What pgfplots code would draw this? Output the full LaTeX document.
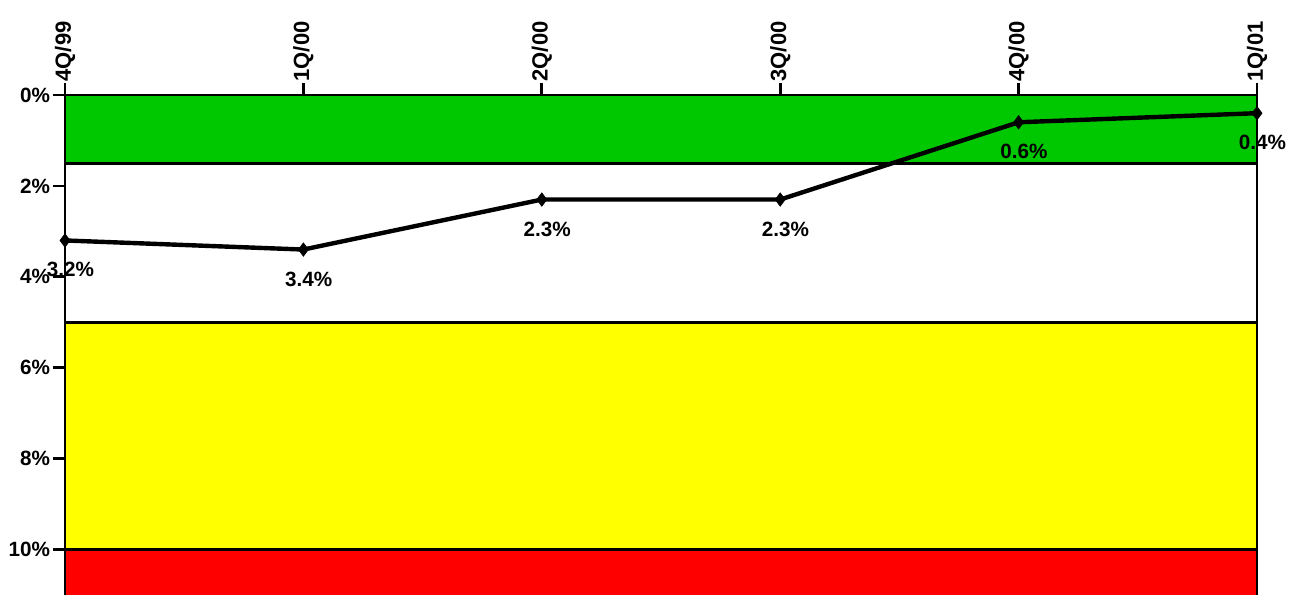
\documentclass[border=0pt]{standalone}
\usepackage{fontspec}
\setmainfont{Liberation Sans}
\usepackage{pgfplots}
\pgfplotsset{compat=1.18}
\definecolor{bgreen}{RGB}{0,200,0}
\definecolor{byellow}{RGB}{255,255,0}
\definecolor{bred}{RGB}{255,0,0}
\begin{document}
\begin{tikzpicture}
\begin{axis}[
  scale only axis, width=894pt, height=375pt,
  xmin=0, xmax=5, ymin=0, ymax=11, y dir=reverse,
  clip=false,
  axis line style={draw=none},
  xtick={0,1,2,3,4,5},
  xticklabels={4Q/99,1Q/00,2Q/00,3Q/00,4Q/00,1Q/01},
  xtick pos=right,
  xticklabel pos=right,
  ytick={0,2,4,6,8,10},
  ytick pos=left,
  yticklabel={\pgfmathprintnumber{\tick}\%},
  tick align=outside,
  major tick length=9pt,
  every tick/.style={black, line width=2pt},
  xticklabel style={rotate=90, anchor=west, font=\bfseries\fontsize{16.5}{18}\selectfont, inner sep=1pt},
  yticklabel style={font=\bfseries\fontsize{15.5}{18}\selectfont, inner sep=2pt},
  /pgf/number format/assume math mode=true,
  nodes near coords={\pgfmathprintnumber[fixed,precision=1,fixed zerofill]{\pgfplotspointmeta}\%},
  every node near coord/.append style={font=\bfseries\fontsize{15.5}{18}\selectfont, anchor=north, yshift=-13pt, xshift=4pt, black},
]
% bands
\addplot[fill=bgreen, draw=none, nodes near coords=] coordinates {(0,0) (5,0) (5,1.5) (0,1.5)} -- cycle;
\addplot[fill=byellow, draw=none, nodes near coords=] coordinates {(0,5) (5,5) (5,10) (0,10)} -- cycle;
\addplot[fill=bred, draw=none, nodes near coords=] coordinates {(0,10) (5,10) (5,11) (0,11)} -- cycle;
% band borders and frame
\addplot[black, line width=2.2pt, nodes near coords=] coordinates {(0,1.5) (5,1.5)};
\addplot[black, line width=2.2pt, nodes near coords=] coordinates {(0,5) (5,5)};
\addplot[black, line width=2.2pt, nodes near coords=] coordinates {(0,10) (5,10)};
\addplot[black, line width=2.2pt, nodes near coords=] coordinates {(0,11) (0,0) (5,0) (5,11)};
% data
\addplot[black, line width=3.3pt, mark=diamond*, mark size=5pt, mark options={line width=0.5pt}] coordinates {
  (0,3.2) (1,3.4) (2,2.3) (3,2.3) (4,0.6) (5,0.4)
};
\end{axis}
\pgfresetboundingbox
\path (current axis.south west) ++(-48.75pt,0pt) coordinate (bbsw);
\path (current axis.north east) ++(24.75pt,71.25pt) coordinate (bbne);
\useasboundingbox (bbsw) rectangle (bbne);
\end{tikzpicture}
\end{document}
